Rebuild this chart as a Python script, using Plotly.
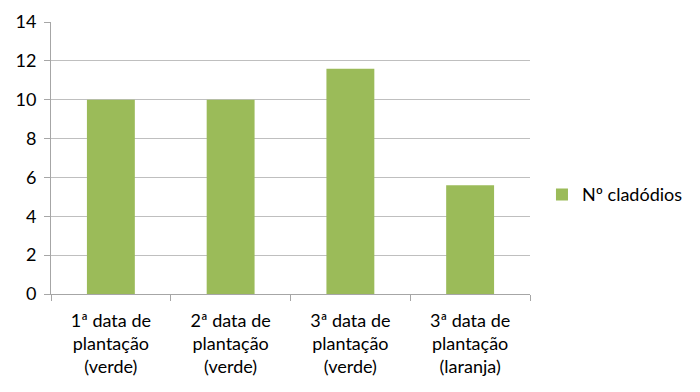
import plotly.graph_objects as go

categories = ["1ª data de<br>plantação<br>(verde)", "2ª data de<br>plantação<br>(verde)",
              "3ª data de<br>plantação<br>(verde)", "3ª data de<br>plantação<br>(laranja)"]
values = [10, 10, 11.6, 5.6]
series_name = "Nº cladódios"
y_ticks = [0, 2, 4, 6, 8, 10, 12, 14]

font_family = "Lato, Open Sans, sans-serif"

fig = go.Figure()
fig.add_trace(go.Bar(x=categories, y=values, name=series_name,
                     marker=dict(color="#9BBB59", line=dict(width=0)), width=0.4))

fig.update_layout(
    width=700, height=392,
    margin=dict(l=51, r=170, t=22, b=98),
    paper_bgcolor="white", plot_bgcolor="white",
    font=dict(family=font_family, size=18, color="#000000"),
    showlegend=True,
    legend=dict(x=1.025, y=0.365, xanchor="left", yanchor="middle",
                font=dict(size=18), itemwidth=30),
    bargap=0.6,
)
fig.update_xaxes(
    type="category", showline=True, linecolor="#a6a6a6", linewidth=1,
    ticks="outside", tickson="boundaries", ticklen=6, tickcolor="#a6a6a6",
    showgrid=False, tickfont=dict(size=18), range=[-0.5, 3.5],
    ticklabelstandoff=10, automargin=False,
)
fig.update_yaxes(
    range=[0, 14], tickvals=y_ticks, showline=True, linecolor="#a6a6a6", linewidth=1,
    ticks="outside", ticklen=6, tickcolor="#a6a6a6",
    showgrid=True, gridcolor="#bfbfbf", gridwidth=1, zeroline=False,
    tickfont=dict(size=18), ticklabelstandoff=4, automargin=False,
)

fig.write_html("out.html", config={"displayModeBar": False},
               post_script="document.body.style.margin='0';document.body.style.padding='0';")
